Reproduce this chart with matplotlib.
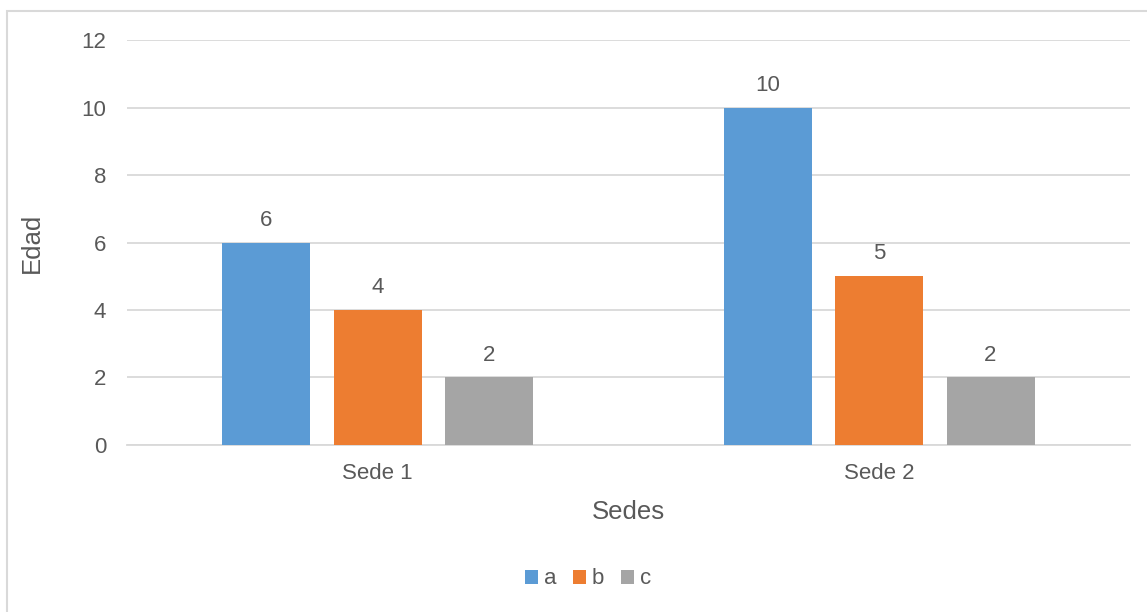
import numpy as np
import matplotlib
matplotlib.use('Agg')
import matplotlib.pyplot as plt
from matplotlib.patches import Rectangle

categories = ['Sede 1', 'Sede 2']
series_names = ['a', 'b', 'c']
values_a = [6, 10]
values_b = [4, 5]
values_c = [2, 2]
colors = ['#5B9BD5', '#ED7D31', '#A5A5A5']

plt.rcParams['font.family'] = ['Liberation Sans', 'DejaVu Sans']
text_color = '#595959'

fig = plt.figure(figsize=(11.47, 6.12), dpi=100)
ax = fig.add_axes([0.1107, 0.2729, 0.8743, 0.6617])

# outer chart border (cropped at right/bottom)
fig.patches.append(Rectangle((7 / 1147, -0.1), 1.2, 0.1 + (612 - 11) / 612,
                             transform=fig.transFigure, fill=False,
                             edgecolor='#d9d9d9', linewidth=1.5))

x = np.arange(len(categories))
width = 0.1755
offset = 0.2223
all_values = [values_a, values_b, values_c]
for i, vals in enumerate(all_values):
    bars = ax.bar(x + (i - 1) * offset, vals, width, color=colors[i],
                  label=series_names[i], zorder=3)
    for b, v in zip(bars, vals):
        ax.text(b.get_x() + b.get_width() / 2, v + 0.35, str(v),
                ha='center', va='bottom', fontsize=16, color=text_color)

ax.set_xlim(-0.5, 1.5)
ax.set_ylim(0, 12)
ax.set_yticks(range(0, 13, 2))
ax.set_xticks(x)
ax.set_xticklabels(categories)
ax.tick_params(axis='both', length=0, labelsize=16, colors=text_color)
ax.tick_params(axis='y', pad=15)
ax.tick_params(axis='x', pad=13)
ax.yaxis.grid(True, color='#d9d9d9', linewidth=1.3, zorder=0)
for s in ['top', 'right', 'left']:
    ax.spines[s].set_visible(False)
ax.spines['bottom'].set_color('#d9d9d9')
ax.spines['bottom'].set_linewidth(1.3)

ax.set_xlabel('Sedes', fontsize=18.5, color=text_color, labelpad=11.5)
ax.set_ylabel('Edad', fontsize=18.5, color=text_color, labelpad=27)

leg = fig.legend(loc='center', bbox_to_anchor=(588 / 1147, 1 - 579 / 612),
                 ncol=3, frameon=False, fontsize=16, handlelength=0.6,
                 handleheight=0.6, handletextpad=0.25, columnspacing=0.75)
for t in leg.get_texts():
    t.set_color(text_color)

fig.savefig('out.png', dpi=100)
